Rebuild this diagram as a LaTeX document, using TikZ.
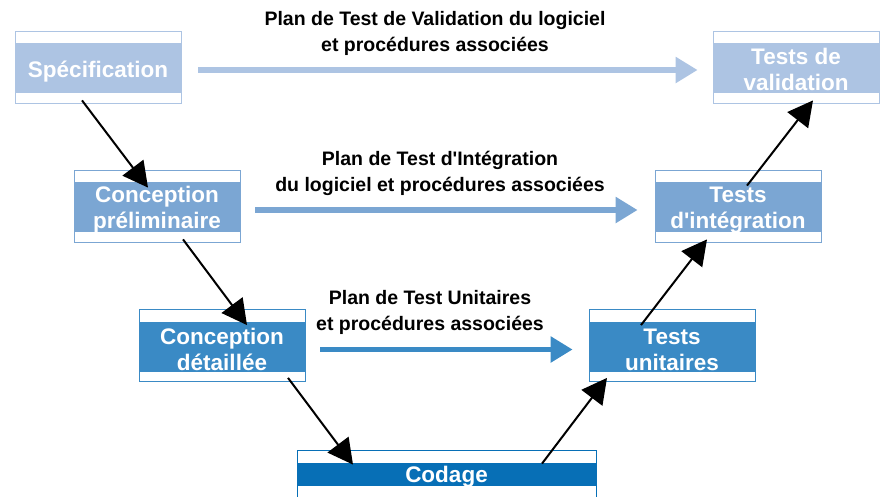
\documentclass[tikz,border=0pt]{standalone}
\usepackage{fontspec}
\setmainfont{Liberation Sans}
\usepackage{tikz}
\usetikzlibrary{positioning, arrows.meta, calc}
\definecolor{vlight}{RGB}{173,196,227}
\definecolor{vmid}{RGB}{123,166,211}
\definecolor{vdeep}{RGB}{58,138,197}
\definecolor{vcode}{RGB}{7,111,182}

\begin{document}
\begin{tikzpicture}[x=1pt, y=-1pt,
    textdrop/.style={execute at begin node={\rule{0pt}{#1}}},
    twoline/.style={textdrop=50.5pt},
    stage/.style={draw=#1, line width=0.8pt, minimum width=166pt, minimum height=72pt,
        inner sep=0pt, text=white, align=center,
        font=\fontsize{22.5}{26}\selectfont\bfseries,
        path picture={\fill[#1] ([yshift=-12pt]path picture bounding box.north west)
            rectangle ([yshift=10pt]path picture bounding box.south east);}},
    codestage/.style={draw=#1, line width=0.8pt, minimum width=299pt, minimum height=49pt,
        inner sep=0pt, text=white, textdrop=20.5pt,
        font=\fontsize{22.5}{26}\selectfont\bfseries,
        path picture={\fill[#1] ([yshift=-13pt]path picture bounding box.north west)
            rectangle ([yshift=13pt]path picture bounding box.south east);}},
    plan/.style={align=center, font=\fontsize{19.5}{26}\selectfont\bfseries},
    flow/.style={line width=5.5pt, draw=#1, -{Triangle[length=22pt, width=25pt]}},
    step arrow/.style={line width=2pt, -{Triangle[length=25pt, width=26pt]}}]
    \clip (0,0) rectangle (880,496);

    % left branch
    \node[stage=vlight, textdrop=26pt] (spec) at (98,67) {Spécification};
    \node[stage=vmid, twoline] (prelim) at (157,206) {Conception\\préliminaire};
    \node[stage=vdeep, twoline] (detail) at (222,345.5) {Conception\\détaillée};
    \node[codestage=vcode] (code) at (446.5,474.5) {Codage};

    % right branch
    \node[stage=vlight, textdrop=47pt] (valid) at (796,67) {Tests de\\validation};
    \node[stage=vmid, twoline] (integ) at (738,206) {Tests\\d\textquotesingle intégration};
    \node[stage=vdeep, twoline] (unit) at (672,345.5) {Tests\\unitaires};

    % test plans
    \draw[flow=vlight] ($(spec.east)+(17,3)$) -- ($(valid.west)+(-15,3)$);
    \node[plan] (planvalid) at (435,33) {Plan de Test de Validation du logiciel\\et procédures associées};
    \draw[flow=vmid] ($(prelim.east)+(15,4)$) -- ($(integ.west)+(-17,4)$);
    \node[plan] (planinteg) at (440,173) {Plan de Test d\textquotesingle Intégration\\du logiciel et procédures associées};
    \draw[flow=vdeep] ($(detail.east)+(15,4)$) -- ($(unit.west)+(-16,4)$);
    \node[plan] (planunit) at (430,312) {Plan de Test Unitaires\\et procédures associées};

    % descending and ascending steps
    \draw[step arrow] ($(spec.south)+(-16,-3)$) -- ($(prelim.north)+(-9,18)$);
    \draw[step arrow] ($(prelim.south)+(26,-3)$) -- ($(detail.north)+(25,16)$);
    \draw[step arrow] ($(detail.south)+(66,-4)$) -- ($(code.north)+(-93.5,15)$);
    \draw[step arrow] ($(code.north)+(95.5,14)$) -- ($(unit.south)+(-65,-4)$);
    \draw[step arrow] ($(unit.north)+(-31,16)$) -- ($(integ.south)+(-31,-3)$);
    \draw[step arrow] ($(integ.north)+(9,16)$) -- ($(valid.south)+(17,-3)$);
\end{tikzpicture}
\end{document}
